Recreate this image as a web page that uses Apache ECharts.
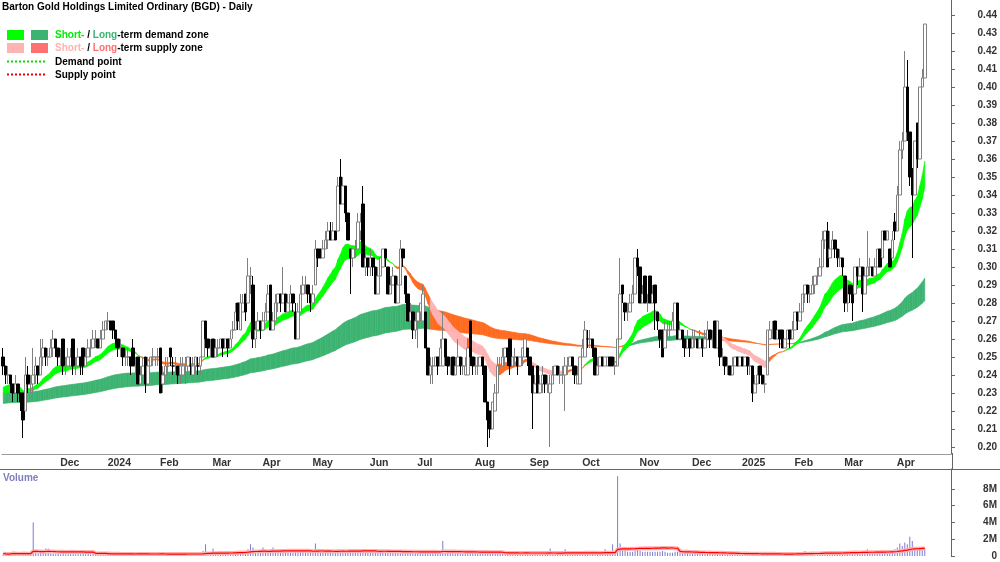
<!DOCTYPE html>
<html>
<head>
<meta charset="utf-8">
<script src="https://cdn.jsdelivr.net/npm/echarts@6/dist/echarts.min.js"></script>
<style>
  html, body { margin: 0; padding: 0; background: #fff; }
  #chart { width: 1000px; height: 562px; }
</style>
</head>
<body>
<div id="chart"></div>
<script>
// each bar: [open, close, low, high] in cents, then volume in 100k shares
const nov23 = [
  [25,24.5,24,25.5,3],[24.5,24,23.5,24.5,2],[24,24,23.5,24.5,2],[24,23.5,23,24,3],[23.5,23,22.5,23.5,5],
  [23,23.5,23,24,2],[23.5,23,22.5,23.5,2],[23,22.5,22,23,3],[23,21.5,20.5,23,4],[22,24,22,25,3],
  [24,23.5,23,24.5,2],[23.5,23.5,23,24,2],[23.5,24,23,25.5,40],[24,24.5,23.5,25,5],[24.5,24,23.5,24.5,3],
  [24,25,24,26,4],[25,25.5,24.5,26,3],[25.5,25,24.5,25.5,9],[25,25,24.5,25.5,9],[25,25.5,25,26,3],
  [25.5,26,25,26.5,3],[26,25.5,25,26,2]
];
const dec23 = [
  [25.5,25,24.5,25.5,3],[25,25,24.5,25.5,2],[26,24.5,24,26,4],[24.5,24.5,24,25,2],[24.5,25,24.5,25.5,2],
  [24.5,25,24.5,25.5,3],[26,24.5,24,26,3],[24.5,24.5,24,25,2],[24.5,25,24.5,25.5,2],[25,24.5,24,25,2],
  [25.5,24.5,24,25.5,3],[24.5,25,24.5,25.5,2],[25,25.5,25,26,3],[25.5,25.5,25,26,2],[25.5,26,25.5,26.5,3],
  [26,26,25.5,26.5,2],[26,25.5,25.5,26,2],[25.5,26,25.5,26.5,3],[26,26.5,26,27,3]
];
const jan24 = [
  [26.5,27,26.5,27,4],[27,27,26.5,27.5,3],[27,26.5,26.5,27,2],[27,26.5,26,27,2],[26.5,26,25.5,26.5,3],
  [26,25.5,25,26,2],[25.5,25.5,25,26,2],[25.5,25,24.5,25.5,2],[25,25,24.5,25.5,2],[25,25,24.5,25.5,2],
  [25,24.5,24,25,2],[25.5,24.5,24.5,26,3],[24.5,24.5,24,25,2],[25,23.5,23.5,25,3],[23.5,24,23.5,24.5,2],
  [24,24.5,24,25,2],[25,23.5,23,25,3],[23.5,24.5,23.5,25,2],[24.5,25,24.5,25,2],[25,25,24.5,25.5,2],
  [25,25,24.5,25,2]
];
const feb24 = [
  [25,25,24.5,25.5,2],[25.5,23,23,25.5,4],[23.5,24,23,24.5,3],[24,24.5,24,25,2],[24.5,24.5,24,25,2],
  [25.5,25,24.5,25.5,3],[24.5,24.5,24,25,2],[24.5,24.5,24,25,2],[24.5,24,23.5,24.5,2],[24,24.5,23.5,25,3],
  [24,24.5,24,25,2],[24.5,24.5,23.5,25,2],[24.5,25,24,25,3],[24.5,24.5,24,25,2],[24,24.5,24,25,2],
  [24.5,25,24,25,3],[24.5,24.5,24,25,2],[24.5,25,24,25,3],[25,27,25,27,6],[27,26,25.5,27,14],
  [26,25.5,25,26,4]
];
const mar24 = [
  [25.5,25.5,25,26,3],[26,25,25,26,9],[25,25.5,25,26,3],[25.5,25.5,25,26,3],[25.5,26,25.5,26,4],
  [26,25.5,25,26,3],[25.5,26,25.5,26,3],[26,25.5,25,26,3],[25.5,26,25.5,26.5,4],[26.5,26.5,26,27,4],
  [26.5,27.5,26.5,28,6],[28,27,26.5,28,5],[26.5,28,26.5,28.5,5],[27.5,28,27.5,28.5,4],[28.5,27.5,27,28.5,5],
  [28,29.5,28,30.5,8],[29.5,29.5,28.5,30,14],[29,26,25.5,29.5,10],[26,26.5,25.5,27,6],[26.5,27,26.5,27.5,4]
];
const apr24 = [
  [27,26.5,26,27,5],[26.5,27,26.5,27.5,10],[27,27.5,27,28,5],[27.5,28.5,27.5,29,6],[29,26.5,26.5,29,8],
  [26.5,27,26.5,27.5,10],[27,28,27,28.5,6],[28,28.5,27.5,28.5,5],[28.5,28,27.5,28.5,4],[28,28.5,28,30,7],
  [28.5,27.5,27.5,28.5,5],[27.5,28,27.5,28.5,4],[28,28.5,28,29,4],[28.5,28,27.5,28.5,4],[27.5,26,26,28,6],
  [26,27.5,26,28,5],[27.5,28.5,27.5,29,5],[28.5,29,28.5,29.5,5],[29,29,28.5,29.5,4],[29,28.5,28,29,4]
];
const may24 = [
  [28.5,28,27.5,28.5,5],[28,28.5,28,29,5],[29,31,29,31.5,15],[31,30.5,30,31,7],[31,30.5,30.5,31,5],
  [30.5,31,30.5,31.5,5],[31,31.5,31,32,6],[31.5,32,31,32.5,6],[32,31.5,31.5,32.5,5],[31.5,32,31.5,32.5,5],
  [32,31.5,31.5,32,4],[32,34.5,32,35,8],[35,33.5,33.5,36,8],[33.5,34.5,33.5,35,6],[34.5,33,32.5,34.5,6],
  [33,31.5,31.5,33,6],[31,30.5,28.5,31,7],[30.5,31,30,31,5],[31,31,30.5,31.5,5],[31,32.5,31,33,6],
  [32,32.5,31.5,33,5],[33.5,30,30,34.5,7],[30,30.5,29.5,31,5]
];
const jun24 = [
  [30.5,30,29.5,30.5,5],[30,30.5,29.5,31,5],[30.5,30,29.5,30.5,4],[30,28.5,28.5,30,6],[28.5,29.5,28.5,30,5],
  [29.5,30.5,29.5,30.5,5],[30,31,30,31,6],[31,30.5,30,31,5],[30,28.5,28.5,30,5],[28.5,29,28.5,29.5,4],
  [29,29.5,29,30,4],[29.5,28,28,29.5,5],[28,29,28,29.5,4],[29,31,29,31.5,6],[31,30.5,30,31,5],
  [29.5,28.5,28,29.5,5],[28.5,27,27,28.5,5],[27,27.5,27,28,4],[27.5,26.5,26,27.5,5]
];
const jul24 = [
  [26.5,27,26,27.5,5],[27,27.5,25.5,27.5,5],[27.5,28,27,28,4],[27,28.5,27,29,5],[27.5,25.5,25.5,27.5,6],
  [25.5,24,24,25.5,6],[24,24.5,23.5,25,5],[24.5,24.5,23.5,25,4],[24.5,25,24.5,25,4],[25,24.5,24,25,4],
  [24.5,25.5,24.5,26,5],[24.5,26,24.5,27.5,18],[26,25,24.5,26,6],[25,24.5,24,25,4],[24.5,24.5,24,25,4],
  [25,24,24,25,4],[24,24.5,24,25,3],[24.5,25,24.5,26,4],[25,24.5,24,25,3],[24.5,24.5,24,25,3],
  [24,24.5,24,25,3],[24,25.5,24,26,4],[27,25,24.5,27,5]
];
const aug24 = [
  [25,24.5,24,25,4],[24.5,24.5,24,25,3],[24.5,24.5,24,25,3],[24.5,25,24.5,25,3],[25,24.5,24,25,3],
  [24.5,22.5,22.5,24.5,5],[22.5,21.5,20,22.5,6],[22,21,20.5,22,5],[21,22.5,21,22.5,4],[22,23,22,23.5,4],
  [23,24.5,23,25,4],[24.5,24.5,24,25,3],[24.5,25,24.5,25.5,3],[25,25.5,24.5,25.5,3],[25.5,25,24.5,25.5,3],
  [26,24.5,24,26,4],[24.5,25,24.5,25,3],[25,25,24.5,25.5,3],[25,24.5,24,25,3],[24.5,25,24.5,25,3],
  [25,25.5,24.5,25.5,3],[25,26,25,26,4]
];
const sep24 = [
  [25.5,25,24.5,25.5,3],[25,24,24,25,3],[24.5,23,21,24.5,5],[23,23.5,23,24,3],[24.5,23,23,24.5,4],
  [23,23.5,23,24,3],[23.5,24,23,24.5,3],[24,23.5,23,24,3],[23.5,23.5,23,24,3],[23,23.5,20,24,9],
  [23.5,24,23.5,24.5,4],[24,24.5,24,24.5,3],[24.5,24,24,24.5,3],[24,24,23.5,24.5,3],[24,24,23.5,24.5,3],
  [24,24.5,22,25,8],[24.5,24.5,24,25,3],[24.5,25,24.5,25,3],[25,24.5,24,25,3],[24.5,24,23.5,24.5,3],
  [23.5,24,23.5,24.5,3]
];
const oct24 = [
  [23.5,25,23.5,25,4],[25,25.5,25,26,4],[25,26.5,25,27,5],[26,26,25.5,26.5,4],[26,26,25.5,26.5,3],
  [26,25.5,25,26,3],[25.5,24,24,25.5,4],[24,24.5,24,25,3],[24.5,25,24.5,25,3],[25,24.5,24.5,25,3],
  [24.5,25,24.5,25,8],[24.5,25,24.5,25,3],[25,24.5,24.5,25,3],[25,24.5,24.5,25,14],[24.5,24.5,24,25,4],
  [24.5,26,24.5,26,95],[26,28.5,26,30.5,15],[29,28.5,28,29,8],[28,27.5,27,28,6],[27.5,27.5,27,28,5],
  [27.5,28,27.5,28.5,5],[28,28.5,28,29,5],[28.5,30.5,28.5,30.5,6]
];
const nov24 = [
  [30.5,30,29.5,31,7],[30,28,28,30,6],[28,28.5,28,29,5],[29.5,28,28,29.5,5],[28,28,27.5,28.5,5],
  [29.5,28,28,29.5,5],[28,28.5,28,29,5],[29,28,26.5,29,5],[27.5,27,26.5,27.5,5],[26.5,26,25.5,26.5,5],
  [26.5,25,25,26.5,6],[25.5,26.5,25.5,27,5],[26.5,26.5,26,27,4],[26.5,26.5,26,27,4],[26.5,27,26.5,27.5,4],
  [26.5,28,26.5,28,5],[28,26,26,28,5],[26,26.5,26,27,4],[26.5,26,25.5,26.5,4],[26,25.5,25,26,4],
  [25.5,26,25.5,26.5,4]
];
const dec24 = [
  [26,25.5,25,26,3],[25.5,26,25.5,26.5,3],[26,26,25.5,26.5,3],[26,25.5,25.5,26,3],[25.5,26,25.5,26.5,3],
  [26,25.5,25,26,3],[25.5,26,25.5,26.5,3],[26,26.5,26,27,4],[26.5,26,25.5,26.5,3],[26,26,25.5,26.5,3],
  [27,25.5,25.5,27,4],[25.5,27,25.5,27,4],[26.5,25,24.5,26.5,4],[25,25,24.5,25.5,3],[25,24.5,24,25,3],
  [24.5,24.5,24,25,2],[24.5,24,24,24.5,2],[24,24.5,24,25,2],[24.5,25,24.5,25,2],[25,24.5,24.5,25,2]
];
const jan25 = [
  [24.5,25,24.5,25,2],[25,24.5,24.5,25,2],[24.5,25,24.5,25,2],[25,24.5,24,25,2],[24.5,24.5,24,25,2],
  [24.5,23,22.5,24.5,3],[23,23.5,23,24,3],[23.5,24,23.5,24.5,2],[24.5,24,23.5,24.5,2],[24,23.5,23.5,24,2],
  [23.5,23.5,23,24,2],[24,26.5,24,26.5,4],[26,26.5,26,27,3],[26.5,26.5,26,27,3],[27,26,26,27,3],
  [26,26.5,26,26.5,2],[26.5,26,25.5,26.5,2],[26.5,25.5,25.5,26.5,2],[25.5,26,25.5,26,2],[26,26.5,26,26.5,2],
  [26.5,26,25.5,26.5,2]
];
const feb25 = [
  [26,26.5,26,27,3],[26.5,27.5,26.5,27.5,4],[27.5,27,26.5,27.5,3],[27,27.5,27,28,3],[27.5,28.5,27.5,28.5,4],
  [28.5,29,28,29,6],[29,28.5,28,29,4],[28.5,28.5,28,29,3],[28.5,29,28.5,29.5,4],[29,29.5,28.5,29.5,4],
  [29.5,29.5,29,30,4],[29.5,30,29.5,30.5,4],[30,31.5,30,32,5],[31.5,32,31,32,5],[32,30,30,32.5,5],
  [30.5,31,30.5,32,4],[31,31.5,31,32,4],[31.5,31,30.5,31.5,3],[31,30.5,30,31,3],[30.5,30.5,30,31,3]
];
const mar25 = [
  [30.5,30,29.5,30.5,4],[29.5,28,27.5,29.5,5],[28,28,27.5,29,5],[29,28.5,28,29,4],[28.5,28,27,29,5],
  [28.5,30,28.5,30,5],[30,29.5,29,30,4],[29.5,30,29.5,30.5,4],[30,28.5,27.5,30,6],[28.5,29.5,28.5,30,5],
  [29.5,30,29.5,32,8],[30,30,29.5,30.5,5],[30,29.5,29.5,30,4],[29.5,30,29.5,30.5,5],[30,31,30,31,6],
  [31,30,30,31,5],[30.5,32,30.5,32,6],[32,31.5,31.5,32,5],[31.5,32,31.5,32,6],[31,30,30,31,6],
  [30.5,31.5,30.5,32,7]
];
const apr25 = [
  [32.5,32,31.5,33,8],[32,34,32,34.5,10],[34,36.5,34,37,15],[36.5,37,36,37.5,12],[37,40,37,42,16],
  [40,37.5,37,41.5,14],[37.5,35,34.5,37.5,23],[35,34,30.5,35.5,18],[34,37,34,37,10],[38,36,35.5,38,8],
  [36,40,36,40,10],[40,40.5,40,41,8],[40.5,43.5,40.5,43.5,9]
];

const monthLabels = ['Nov', 'Dec', '2024', 'Feb', 'Mar', 'Apr', 'May', 'Jun', 'Jul', 'Aug', 'Sep', 'Oct', 'Nov', 'Dec', '2025', 'Feb', 'Mar', 'Apr'];
const priceTicks = [0.20, 0.21, 0.22, 0.23, 0.24, 0.25, 0.26, 0.27, 0.28, 0.29, 0.30, 0.31, 0.32, 0.33, 0.34, 0.35, 0.36, 0.37, 0.38, 0.39, 0.40, 0.41, 0.42, 0.43, 0.44];
const volumeTicks = [0, 2e6, 4e6, 6e6, 8e6];

// zone bands: EMA pairs, started from the levels read at the left edge
const shortPeriods = [20, 30];
const longPeriods = [130, 220];
const shortSeed = [23.2, 22.8];
const longSeed = [23.0, 22.4];
const volPeriod = 25;
const padDays = 10;

const months = [nov23, dec23, jan24, feb24, mar24, apr24, may24, jun24, jul24, aug24, sep24, oct24, nov24, dec24, jan25, feb25, mar25, apr25];

const bars = [];
const cats = [];
const tickAt = {};
months.forEach((m, k) => {
  if (k > 0) tickAt[bars.length] = monthLabels[k];
  m.forEach((b) => {
    cats.push(monthLabels[k] + '-' + bars.length);
    bars.push(b);
  });
});
for (let i = 0; i < padDays; i++) cats.push('pad' + i);

const closes = bars.map((b) => b[1]);

function ema(vals, n, seed) {
  const a = 2 / (n + 1);
  let e = seed;
  return vals.map((v) => (e = e + a * (v - e)));
}

function sma(vals, n) {
  return vals.map((v, i) => {
    const part = vals.slice(Math.max(0, i - n + 1), i + 1);
    return part.reduce((s, x) => s + x, 0) / part.length;
  });
}

const sFast = ema(closes, shortPeriods[0], shortSeed[0]);
const sSlow = ema(closes, shortPeriods[1], shortSeed[1]);
const lFast = ema(closes, longPeriods[0], longSeed[0]);
const lSlow = ema(closes, longPeriods[1], longSeed[1]);

const palette = ['#00FF00', '#3CB371', '#FFB3B3', '#FF6A1F'];

function bandData(fast, slow, colorOf) {
  const out = [];
  for (let i = 0; i < fast.length - 1; i++) {
    out.push([i, fast[i] / 100, slow[i] / 100, fast[i + 1] / 100, slow[i + 1] / 100, colorOf(i)]);
  }
  return out;
}

// long zone is demand while the short band holds above it
const longBand = bandData(lFast, lSlow, (i) => (sFast[i] >= lFast[i] ? 1 : 3));
const shortBand = bandData(sFast, sSlow, (i) => {
  if (sFast[i] >= sSlow[i]) return 0;
  const rising = i > 0 && sFast[i] > sFast[i - 1];
  return sFast[i] >= lFast[i] || rising ? 3 : 2;
});

function renderBand(params, api) {
  const i = api.value(0);
  const p1 = api.coord([i, api.value(1)]);
  const p2 = api.coord([i + 1, api.value(3)]);
  const p3 = api.coord([i + 1, api.value(4)]);
  const p4 = api.coord([i, api.value(2)]);
  const col = palette[api.value(5)];
  return {
    type: 'polygon',
    shape: { points: [p1, p2, p3, p4] },
    style: { fill: col, stroke: col, lineWidth: 0.6 },
  };
}

const candles = bars.map((b) => [b[0] / 100, b[1] / 100, b[2] / 100, b[3] / 100]);
const volumes = bars.map((b) => b[4] * 1e5);
const volAvg = sma(volumes, volPeriod);

const font = 'Liberation Sans, Arial, sans-serif';
const chart = echarts.init(document.getElementById('chart'), null, { renderer: 'canvas' });

const legendText = {
  fontFamily: font, fontSize: 10, fontWeight: 'bold', fill: '#000',
};
const rich = (c1, c2) => ({
  a: { fill: c1, fontFamily: font, fontSize: 10, fontWeight: 'bold' },
  b: { fill: c2, fontFamily: font, fontSize: 10, fontWeight: 'bold' },
});

chart.setOption({
  animation: false,
  backgroundColor: '#fff',
  title: {
    text: 'Barton Gold Holdings Limited Ordinary (BGD) - Daily',
    left: 2, top: 2, padding: 0,
    textStyle: { fontFamily: font, fontSize: 10, fontWeight: 'bold', color: '#000' },
  },
  grid: [
    { left: 2, right: 48, top: 0, bottom: 108 },
    { left: 2, right: 48, top: 469, bottom: 6 },
  ],
  xAxis: [
    {
      type: 'category', gridIndex: 0, data: cats, boundaryGap: true,
      axisLine: { lineStyle: { color: '#999' } },
      axisTick: { interval: (i) => i in tickAt, alignWithLabel: true, length: 4, lineStyle: { color: '#999' } },
      axisLabel: {
        interval: (i) => i in tickAt,
        formatter: (v, i) => tickAt[i] || '',
        align: 'left', margin: 4, padding: [0, 0, 0, 2],
        fontFamily: font, fontSize: 10.5, fontWeight: 'bold', color: '#333',
      },
      splitLine: { show: false },
    },
    {
      type: 'category', gridIndex: 1, data: cats, boundaryGap: true,
      axisLine: { show: false }, axisTick: { show: false }, axisLabel: { show: false },
    },
  ],
  yAxis: [
    {
      type: 'value', gridIndex: 0, position: 'right', min: 0.19611, max: 0.44833,
      axisLine: { show: true, lineStyle: { color: '#666' } },
      axisTick: { show: true, length: 4, customValues: priceTicks, lineStyle: { color: '#666' } },
      axisLabel: {
        customValues: priceTicks, formatter: (v) => v.toFixed(2),
        align: 'right', margin: 46,
        fontFamily: font, fontSize: 10, fontWeight: 'bold', color: '#333',
      },
      splitLine: { show: false },
    },
    {
      type: 'value', gridIndex: 1, position: 'right', min: 0, max: 10.36e6,
      axisLine: { show: true, lineStyle: { color: '#666' } },
      axisTick: { show: true, length: 4, customValues: volumeTicks, lineStyle: { color: '#666' } },
      axisLabel: {
        customValues: volumeTicks, formatter: (v) => (v === 0 ? '0' : v / 1e6 + 'M'),
        align: 'right', margin: 46,
        fontFamily: font, fontSize: 10, fontWeight: 'bold', color: '#333',
      },
      splitLine: { show: false },
    },
  ],
  series: [
    {
      type: 'custom', name: 'long zone', xAxisIndex: 0, yAxisIndex: 0,
      renderItem: renderBand, data: longBand, encode: { x: 0, y: 1 }, z: 1, silent: true,
    },
    {
      type: 'custom', name: 'short zone', xAxisIndex: 0, yAxisIndex: 0,
      renderItem: renderBand, data: shortBand, encode: { x: 0, y: 1 }, z: 2, silent: true,
    },
    {
      type: 'candlestick', name: 'BGD', xAxisIndex: 0, yAxisIndex: 0, data: candles, z: 5,
      barWidth: 3,
      itemStyle: { color: '#ffffff', color0: '#000000', borderColor: '#808080', borderColor0: '#000000', borderWidth: 1 },
    },
    {
      type: 'bar', name: 'Volume', xAxisIndex: 1, yAxisIndex: 1, data: volumes,
      barWidth: 1, itemStyle: { color: '#7b7bd6' },
    },
    {
      type: 'line', name: 'Volume avg band', xAxisIndex: 1, yAxisIndex: 1, data: volAvg,
      showSymbol: false, lineStyle: { color: '#ffb0b0', width: 4 }, z: 3,
    },
    {
      type: 'line', name: 'Volume avg', xAxisIndex: 1, yAxisIndex: 1, data: volAvg,
      showSymbol: false, lineStyle: { color: '#ff0000', width: 1.2 }, z: 4,
    },
  ],
  graphic: [
    { type: 'line', shape: { x1: 0, y1: 469.5, x2: 1000, y2: 469.5 }, style: { stroke: '#666', lineWidth: 1 } },
    { type: 'line', shape: { x1: 952.5, y1: 453, x2: 952.5, y2: 470 }, style: { stroke: '#666', lineWidth: 1 } },
    { type: 'text', left: 3, top: 473, style: { text: 'Volume', fontFamily: font, fontSize: 10, fontWeight: 'bold', fill: '#7f7fbf' } },
    { type: 'rect', shape: { x: 7, y: 30, width: 17, height: 10 }, style: { fill: palette[0] } },
    { type: 'rect', shape: { x: 31, y: 30, width: 17, height: 10 }, style: { fill: palette[1] } },
    {
      type: 'text', x: 55, y: 35,
      style: Object.assign({}, legendText, {
        text: '{a|Short-} / {b|Long}-term demand zone', verticalAlign: 'middle', rich: rich('#00ee00', '#3CB371'),
      }),
    },
    { type: 'rect', shape: { x: 7, y: 43, width: 17, height: 10 }, style: { fill: '#FFB3B3' } },
    { type: 'rect', shape: { x: 31, y: 43, width: 17, height: 10 }, style: { fill: '#FF7070' } },
    {
      type: 'text', x: 55, y: 48,
      style: Object.assign({}, legendText, {
        text: '{a|Short-} / {b|Long}-term supply zone', verticalAlign: 'middle', rich: rich('#FFB3B3', '#FF7070'),
      }),
    },
    { type: 'line', shape: { x1: 7, y1: 61.5, x2: 45, y2: 61.5 }, style: { stroke: '#00dd00', lineWidth: 2, lineDash: [2, 2] } },
    { type: 'text', x: 55, y: 62, style: Object.assign({}, legendText, { text: 'Demand point', verticalAlign: 'middle' }) },
    { type: 'line', shape: { x1: 7, y1: 74.5, x2: 45, y2: 74.5 }, style: { stroke: '#ee0000', lineWidth: 2, lineDash: [2, 2] } },
    { type: 'text', x: 55, y: 75, style: Object.assign({}, legendText, { text: 'Supply point', verticalAlign: 'middle' }) },
  ],
});
</script>
</body>
</html>
